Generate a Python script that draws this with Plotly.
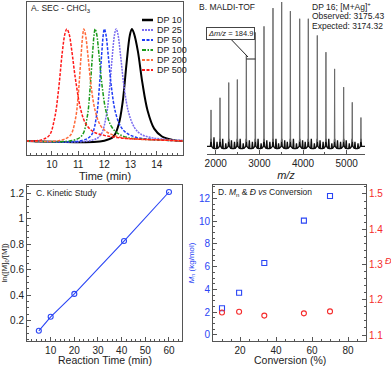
import plotly.graph_objects as go

W, H = 391, 366

# ---- A. SEC traces (time in min, normalised RI signal) ----
sec_names = ['DP 10', 'DP 25', 'DP 50', 'DP 100', 'DP 200', 'DP 500']
sec_t = {
    'DP 10': [9.0, 12.0, 12.35, 12.55, 12.7, 12.85, 12.97, 13.05, 13.13, 13.28, 13.45, 13.65, 13.9, 14.2, 14.6, 15.0],
    'DP 25': [9.0, 11.5, 11.85, 12.07, 12.18, 12.3, 12.39, 12.45, 12.52, 12.62, 12.76, 12.93, 13.15, 13.4, 13.8, 14.3, 15.0],
    'DP 50': [9.0, 11.15, 11.5, 11.7, 11.8, 11.9, 11.96, 12.0, 12.06, 12.15, 12.27, 12.42, 12.62, 12.85, 13.25, 13.8, 14.5, 15.0],
    'DP 100': [9.0, 10.8, 11.15, 11.35, 11.45, 11.55, 11.61, 11.65, 11.71, 11.8, 11.92, 12.07, 12.27, 12.5, 12.9, 13.5, 14.5, 15.0],
    'DP 200': [9.0, 10.3, 10.7, 10.9, 11.0, 11.1, 11.17, 11.22, 11.28, 11.38, 11.5, 11.65, 11.85, 12.1, 12.5, 13.0, 14.0, 15.0],
    'DP 500': [9.0, 9.6, 9.9, 10.1, 10.25, 10.4, 10.5, 10.57, 10.65, 10.75, 10.9, 11.1, 11.3, 11.6, 12.0, 12.5, 13.0, 14.0, 15.0],
}
sec_i = {
    'DP 10': [0, 0.003, 0.04, 0.15, 0.35, 0.7, 0.94, 1.0, 0.96, 0.8, 0.52, 0.27, 0.11, 0.04, 0.01, 0.0],
    'DP 25': [0, 0.005, 0.05, 0.22, 0.42, 0.75, 0.95, 1.0, 0.95, 0.76, 0.47, 0.25, 0.12, 0.06, 0.03, 0.015, 0.005],
    'DP 50': [0, 0.005, 0.05, 0.22, 0.45, 0.78, 0.95, 1.0, 0.95, 0.76, 0.48, 0.26, 0.13, 0.07, 0.03, 0.015, 0.005, 0],
    'DP 100': [0, 0.005, 0.05, 0.22, 0.45, 0.78, 0.95, 1.0, 0.95, 0.76, 0.48, 0.26, 0.13, 0.07, 0.03, 0.015, 0.005, 0],
    'DP 200': [0, 0.005, 0.05, 0.2, 0.4, 0.72, 0.93, 1.0, 0.95, 0.75, 0.48, 0.27, 0.14, 0.08, 0.04, 0.02, 0.01, 0],
    'DP 500': [0, 0.01, 0.05, 0.2, 0.45, 0.8, 0.96, 1.0, 0.96, 0.82, 0.55, 0.28, 0.15, 0.08, 0.05, 0.03, 0.02, 0.01, 0.0],
}
sec_style = {
    'DP 10': ('black', 'solid', 2),
    'DP 25': ('#7b6cf0', '2px,1px', 1.5),
    'DP 50': ('#1f3cf5', '3px,1.5px', 1.5),
    'DP 100': ('#1a9a1a', '4px,1.5px,1.5px,1.5px', 1.5),
    'DP 200': ('#ff6a3a', '3px,1.5px', 1.5),
    'DP 500': ('#ff1a1a', '3px,1.5px', 1.5),
}

# ---- B. MALDI-TOF peaks ----
peak_mz = [1892, 2098, 2298, 2495, 2701, 2907, 3106, 3312, 3511, 3710, 3924, 4121, 4327, 4525, 4724, 4931, 5128, 5327]
peak_h = [0.29, 0.37, 0.47, 0.49, 0.65, 0.80, 0.84, 0.96, 1.0, 0.94, 0.89, 0.89, 0.78, 0.67, 0.56, 0.44, 0.34, 0.24]
side_mz = [1960, 2030, 2160, 2230, 2360, 2430, 2560, 2630, 2770, 2840, 2970, 3040, 3170, 3240, 3380, 3440,
           3580, 3640, 3780, 3850, 3990, 4050, 4190, 4260, 4390, 4460, 4590, 4660, 4790, 4860, 4990, 5060, 5190, 5260]
side_h = [0.11, 0.08, 0.10, 0.07, 0.09, 0.08, 0.10, 0.07, 0.09, 0.08, 0.10, 0.07, 0.09, 0.08, 0.10, 0.07,
          0.09, 0.08, 0.10, 0.07, 0.09, 0.08, 0.10, 0.07, 0.09, 0.08, 0.10, 0.07, 0.09, 0.08, 0.09, 0.07, 0.08, 0.07]
base_level = 0.05

# ---- C. kinetics ----
kin_t = [5, 10, 20, 41, 60]
kin_ln = [0.12, 0.23, 0.41, 0.825, 1.21]

# ---- D. Mn and dispersity vs conversion ----
conv = [10, 19.5, 33.5, 55.5, 70]
mn = [2.34, 3.71, 6.32, 10.04, 12.2]
disp = [1.164, 1.166, 1.155, 1.1615, 1.167]


def px(x):
    return x / W


def py(y):
    return 1 - y / H


FONT = 'Liberation Sans, Arial, sans-serif'
BLUE = '#2a45f5'
RED = '#f52a2a'

fig = go.Figure()

for name in sec_names:
    c, d, w = sec_style[name]
    fig.add_trace(go.Scatter(x=sec_t[name], y=sec_i[name], mode='lines', line_shape='spline',
                             line=dict(color=c, dash=d, width=w), xaxis='x', yaxis='y', showlegend=False))

# spectrum: noisy black baseline + thin grey spikes, all built from the peak lists
base = [(1800, base_level), (5420, base_level)]
for m, h in zip(peak_mz, peak_h):
    base += [(m - 14, base_level), (m, base_level + 0.05), (m + 14, base_level)]
for m, h in zip(side_mz, side_h):
    base += [(m - 14, base_level - 0.015), (m, h), (m + 14, base_level - 0.015)]
base.sort()
fig.add_trace(go.Scatter(x=[p[0] for p in base], y=[p[1] for p in base], mode='lines',
                         line=dict(color='#111', width=1.3), xaxis='x2', yaxis='y2', showlegend=False))
sx, sy = [], []
for m, h in zip(peak_mz, peak_h):
    sx += [m - 6, m, m + 6, None]
    sy += [base_level + 0.03, h, base_level + 0.03, None]
fig.add_trace(go.Scatter(x=sx, y=sy, mode='lines', line=dict(color='#6a6a6a', width=1),
                         xaxis='x2', yaxis='y2', showlegend=False))

fig.add_trace(go.Scatter(x=kin_t, y=kin_ln, mode='lines+markers',
                         line=dict(color=BLUE, width=1.1),
                         marker=dict(symbol='circle-open', size=5, color=BLUE, line=dict(width=1.1)),
                         xaxis='x3', yaxis='y3', showlegend=False))

fig.add_trace(go.Scatter(x=conv, y=mn, mode='markers',
                         marker=dict(symbol='square-open', size=5, color=BLUE, line=dict(width=1.1)),
                         xaxis='x4', yaxis='y4', showlegend=False))
fig.add_trace(go.Scatter(x=conv, y=disp, mode='markers',
                         marker=dict(symbol='circle-open', size=5, color=RED, line=dict(width=1.1)),
                         xaxis='x4', yaxis='y5', showlegend=False))

frame = dict(showline=True, linecolor='#555', linewidth=1, showgrid=False, zeroline=False,
             ticks='inside', ticklen=4, tickcolor='#555', tickfont=dict(size=10, color='#222'),
             automargin=False)

fig.update_layout(
    width=W, height=H, margin=dict(l=0, r=0, t=0, b=0),
    paper_bgcolor='white', plot_bgcolor='white',
    font=dict(family=FONT, size=10, color='#222'),
    xaxis=dict(frame, domain=[px(27), px(183)], range=[9.05, 15.0], anchor='y', mirror=True,
               tickvals=[10, 11, 12, 13, 14], minor=dict(dtick=0.2, ticks='inside', ticklen=2, tickcolor='#555'),
               title=dict(text='Time (min)', font=dict(size=11), standoff=2)),
    yaxis=dict(frame, domain=[py(155), py(2)], range=[-0.125, 1.24], anchor='x', mirror=True,
               ticks='', showticklabels=False),
    xaxis2=dict(frame, domain=[px(207), px(365)], range=[1800, 5420], anchor='y2',
                tickvals=[2000, 3000, 4000, 5000], minor=dict(dtick=500, ticks='inside', ticklen=2, tickcolor='#555'),
                title=dict(text='<i>m/z</i>', font=dict(size=11), standoff=3)),
    yaxis2=dict(domain=[py(154), py(2)], range=[0, 1], anchor='x2', visible=False),
    xaxis3=dict(frame, domain=[px(27), px(182)], range=[0, 65.5], anchor='y3', mirror=True,
                tickvals=[10, 20, 30, 40, 50, 60], minor=dict(dtick=2, ticks='inside', ticklen=2, tickcolor='#555')),
    yaxis3=dict(frame, domain=[py(341), py(185)], range=[0.04, 1.265], anchor='x3', mirror=True,
                tickvals=[0.2, 0.4, 0.6, 0.8, 1.0, 1.2], ticktext=['0.2', '0.4', '0.6', '0.8', '1', '1.2'],
                minor=dict(dtick=0.05, ticks='inside', ticklen=2, tickcolor='#555'),
                title=dict(text='ln([M]<sub>0</sub>/[M])', font=dict(size=8), standoff=3)),
    xaxis4=dict(frame, domain=[px(213), px(366)], range=[5, 90], anchor='y4', mirror=True,
                tickvals=[20, 40, 60, 80], minor=dict(dtick=5, ticks='inside', ticklen=2, tickcolor='#555')),
    yaxis4=dict(frame, domain=[py(341), py(185)], range=[-0.53, 13.17], anchor='x4',
                tickvals=[0, 2, 4, 6, 8, 10, 12], tickfont=dict(size=10, color=BLUE),
                minor=dict(dtick=0.5, ticks='inside', ticklen=2, tickcolor='#555'),
                title=dict(text='<i>M</i><sub>n</sub> (kg/mol)', font=dict(size=8, color=BLUE), standoff=3)),
    yaxis5=dict(frame, domain=[py(341), py(185)], range=[1.083, 1.5255], anchor='x4', overlaying='y4', side='right',
                tickvals=[1.1, 1.2, 1.3, 1.4, 1.5], tickfont=dict(size=10, color=RED),
                minor=dict(dtick=0.02, ticks='inside', ticklen=2, tickcolor='#555')),
)

ann = []
shp = []


def label(x, y, text, size=8.5, color='#222', xanchor='left', **kw):
    ann.append(dict(x=px(x), y=py(y), xref='paper', yref='paper', text=text, showarrow=False,
                    xanchor=xanchor, yanchor='middle', font=dict(size=size, color=color, family=FONT), **kw))


label(29, 8, 'A. SEC - CHCl<sub>3</sub>')
label(197, 7, 'B. MALDI-TOF')
label(34, 193, 'C. Kinetic Study')
label(216, 192, 'D. <i>M</i><sub>n</sub> &amp; <i>Đ</i> <i>vs</i> Conversion')
label(388, 261, '<i>Đ</i>', size=9, color=RED, xanchor='center')
label(104.5, 359.5, 'Reaction Time (min)', size=10.5, xanchor='center')
label(289.5, 359.5, 'Conversion (%)', size=10.5, xanchor='center')

# legend for panel A
for k, name in enumerate(sec_names):
    c, d, w = sec_style[name]
    yy = 20 + 10 * k
    shp.append(dict(type='line', xref='paper', yref='paper', x0=px(142), x1=px(153), y0=py(yy), y1=py(yy),
                    line=dict(color=c, dash=d, width=w + 0.5)))
    label(155, yy, name, size=9)

# panel B text
label(310, 6, 'DP 16; [M+Ag]<sup>+</sup>', size=8.5)
label(310, 16, 'Observed: 3175.43', size=8.5)
label(310, 26, 'Expected: 3174.32', size=8.5)
ann.append(dict(x=px(230), y=py(27), xref='paper', yref='paper', text='<i>Δm/z</i> = 184.9', showarrow=False,
                font=dict(size=7.5, color='#222', family=FONT), bordercolor='#444', borderwidth=1, borderpad=1,
                bgcolor='white'))
shp.append(dict(type='line', xref='paper', yref='paper', x0=px(224), y0=py(32), x1=px(248), y1=py(57),
                line=dict(color='#222', width=1)))
shp.append(dict(type='line', xref='x2', yref='y2', x0=peak_mz[4], x1=peak_mz[5], y0=0.625, y1=0.625,
                line=dict(color='#222', width=1)))

fig.update_layout(annotations=ann, shapes=shp)
fig.write_html('out.html', config={'displayModeBar': False},
               post_script="document.body.style.margin='0';")
